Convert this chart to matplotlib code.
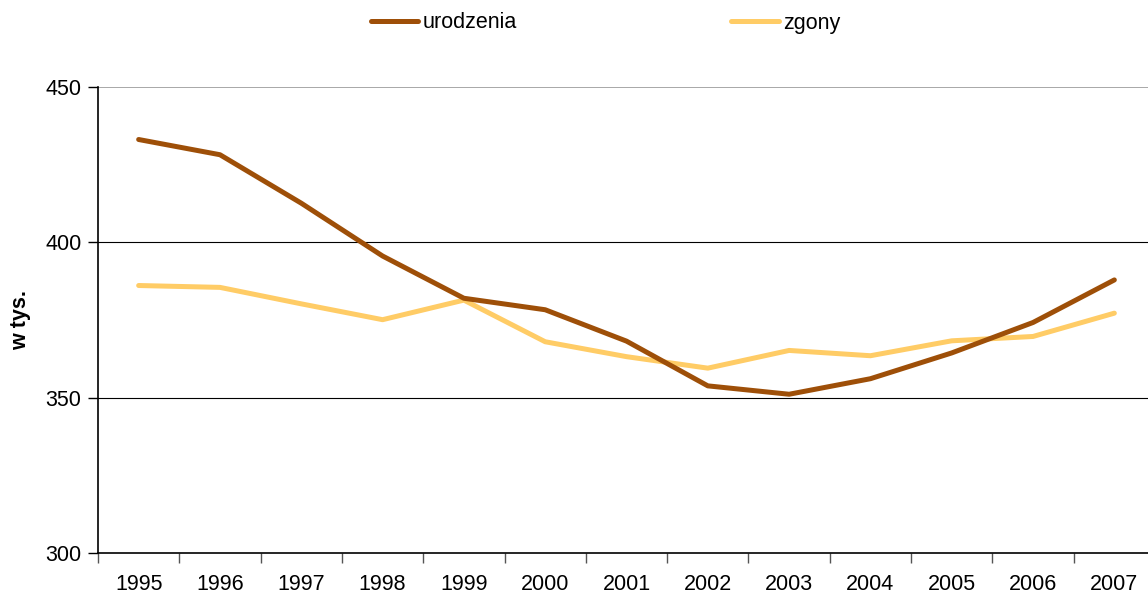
import matplotlib
matplotlib.use("Agg")
import matplotlib.pyplot as plt
from matplotlib.lines import Line2D

plt.rcParams["font.family"] = ["Liberation Sans", "DejaVu Sans"]

years = [str(y) for y in range(1995, 2008)]
urodzenia = [433.1, 428.2, 412.6, 395.6, 382.0, 378.3, 368.2, 353.8, 351.1, 356.1, 364.4, 374.2, 387.9]
zgony = [386.1, 385.5, 380.2, 375.1, 381.4, 368.0, 363.2, 359.5, 365.2, 363.5, 368.3, 369.7, 377.2]

C_UR = "#9E4F08"
C_ZG = "#FFCC66"
FS = 15.5

fig = plt.figure(figsize=(11.48, 5.93), dpi=100)
ax = fig.add_axes([98 / 1148, 1 - 553 / 593, 1057 / 1148, (553 - 87) / 593])

x = range(len(years))
ax.plot(x, zgony, color=C_ZG, lw=3.6, solid_capstyle="round", zorder=3)
ax.plot(x, urodzenia, color=C_UR, lw=3.6, solid_capstyle="round", zorder=4)

ax.set_xlim(-0.5, len(years) - 0.5)
ax.set_ylim(300, 450)
ax.set_yticks([300, 350, 400, 450])
ax.set_xticks(list(x))
ax.set_xticklabels(years, fontsize=FS)
ax.set_xticks([i - 0.5 for i in range(len(years) + 1)], minor=True)
ax.tick_params(axis="x", which="major", length=0, pad=15)
ax.tick_params(axis="x", which="minor", length=7, width=1, color="#555555")
ax.tick_params(axis="y", labelsize=FS, length=7, width=1, pad=5)

for v in [350, 400]:
    ax.axhline(v, color="black", lw=0.8, zorder=1)
ax.axhline(450, color="#999999", lw=1.2, zorder=1)

for s in ["top", "right"]:
    ax.spines[s].set_visible(False)
ax.spines["left"].set_linewidth(1.2)
ax.spines["bottom"].set_linewidth(1.2)

ax.set_ylabel("w tys.", fontsize=FS, fontweight="bold")
ax.yaxis.set_label_coords(-67 / 1057, 0.5)

handles = [Line2D([], [], color=C_UR, lw=3.6, solid_capstyle="round"),
           Line2D([], [], color=C_ZG, lw=3.6, solid_capstyle="round")]
fig.legend(handles, ["urodzenia", "zgony"], loc="center", bbox_to_anchor=(0.5275, 1 - 23 / 593),
           ncol=2, frameon=False, fontsize=FS, handlelength=2.2, handletextpad=0.2,
           columnspacing=9.97)

fig.savefig("out.png", dpi=100)
